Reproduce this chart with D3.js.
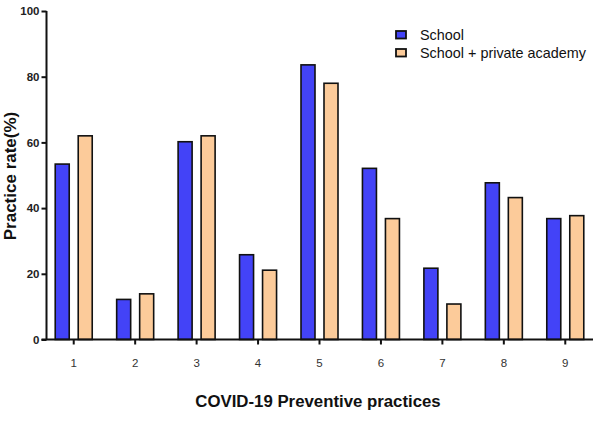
<!DOCTYPE html>
<html><head><meta charset="utf-8">
<script src="https://cdn.jsdelivr.net/npm/d3@7"></script>
<style>body{margin:0;background:#fff}svg{display:block}text{font-family:"Liberation Sans",Arial,sans-serif}</style>
</head><body><svg id="c" width="602" height="427"></svg>
<script>
const categories = ["1","2","3","4","5","6","7","8","9"];
const seriesNames = ["School","School + private academy"];
const school = [53.4,12.2,60.2,25.8,83.6,52.1,21.7,47.7,36.8];
const schoolAcademy = [62.0,13.9,62.0,21.1,78.0,36.8,10.8,43.2,37.7];
const yTicks = [0,20,40,60,80,100];
const colors = ["#4343F7","#FCCB9A"];

const svg = d3.select("#c");
const x = d3.scaleBand().domain(categories).range([43,596]);
const y = d3.scaleLinear().domain([0,100]).range([339.5,11]);
const barW = 14, off = 11.5;

const data = categories.map((c,i)=>({c, v:[school[i], schoolAcademy[i]]}));
const g = svg.append("g");
data.forEach(d=>{
  d.v.forEach((v,j)=>{
    const cx = x(d.c)+x.bandwidth()/2 + (j===0?-off:off);
    g.append("rect").attr("x",cx-barW/2).attr("y",y(v)).attr("width",barW).attr("height",y(0)-y(v))
      .attr("fill",colors[j]).attr("stroke","#111").attr("stroke-width",1.6);
  });
});

// y axis
const ya = svg.append("g").attr("transform","translate(46.5,0)")
  .call(d3.axisLeft(y).tickValues(yTicks).tickSize(5).tickPadding(2));
ya.select(".domain").attr("stroke","#111").attr("stroke-width",2).attr("d","M0,11V339.5");
ya.selectAll(".tick line").attr("stroke","#111").attr("stroke-width",2);
ya.selectAll(".tick text").attr("font-size",11.5).attr("font-weight","bold").attr("fill","#222");

// x axis
const xa = svg.append("g").attr("transform","translate(0,339.5)")
  .call(d3.axisBottom(x).tickSize(5).tickPadding(14));
xa.select(".domain").attr("stroke","#111").attr("stroke-width",2).attr("d","M41.5,0H593");
xa.selectAll(".tick line").attr("stroke","#111").attr("stroke-width",2);
xa.selectAll(".tick text").attr("font-size",11.5).attr("fill","#333");

// titles
svg.append("text").attr("x",318).attr("y",407).attr("text-anchor","middle")
  .attr("font-size",16.8).attr("font-weight","bold").attr("fill","#111").text("COVID-19 Preventive practices");
svg.append("text").attr("transform","translate(16,176) rotate(-90)").attr("text-anchor","middle")
  .attr("font-size",17).attr("font-weight","bold").attr("fill","#111").text("Practice rate(%)");

// legend
const lg = svg.append("g").attr("transform","translate(396,31)");
seriesNames.forEach((n,i)=>{
  lg.append("rect").attr("x",0).attr("y",i*18).attr("width",10).attr("height",7.5)
    .attr("fill",colors[i]).attr("stroke","#111").attr("stroke-width",1.8);
  lg.append("text").attr("x",24).attr("y",i*18+8.5).attr("font-size",14.4).attr("fill","#111").text(n);
});
</script></body></html>
